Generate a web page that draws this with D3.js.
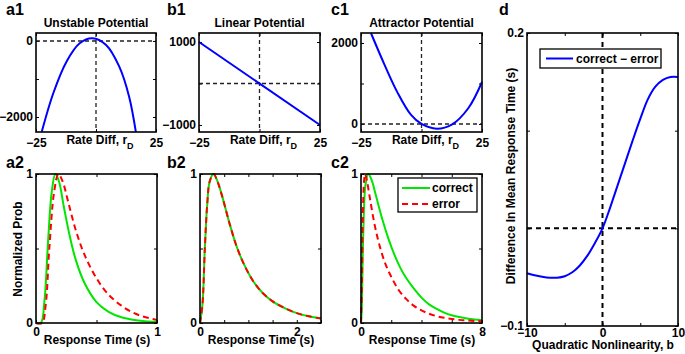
<!DOCTYPE html>
<html>
<head>
<meta charset="utf-8">
<script src="https://cdn.jsdelivr.net/npm/d3@7"></script>
<style>
body { margin: 0; background: #fff; }
text { font-family: "Liberation Sans", Arial, Helvetica, sans-serif; font-weight: bold; font-size: 12px; fill: #000; }
</style>
</head>
<body>
<div id="fig"></div>
<script>
// ---- top row: potentials U(rD) ----
var unstableR = [-22.6, -17.8, -12.3, -6.8, -1.5, 4.2, 9.7, 13.8, 16.6];
var unstableU = [-2390, -1376, -545, -61, 70, -105, -676, -1466, -2390];

var linearR = [-25, 25];
var linearU = [1000, -1000];

var attractorR = [-20.9, -15.4, -9.9, -4.4, 0, 6.3, 12.5, 19.4, 25];
var attractorU = [2247, 1480, 775, 230, 0, -116, -17, 395, 1037];

var rateTicks = [-25, 0, 25];
var rateTickLabels = [-25, 25];

// ---- bottom row: normalized RT distributions ----
var a2CorrectT = [0, 0.04, 0.07, 0.10, 0.13, 0.16, 0.19, 0.23, 0.28, 0.33, 0.40, 0.50, 0.60, 0.70, 0.80, 0.90, 1.0];
var a2Correct  = [0, 0, 0.15, 0.55, 0.88, 1.0, 0.95, 0.78, 0.58, 0.42, 0.27, 0.14, 0.075, 0.04, 0.022, 0.012, 0.007];
var a2ErrorT = [0, 0.05, 0.08, 0.11, 0.15, 0.185, 0.22, 0.27, 0.33, 0.40, 0.50, 0.60, 0.70, 0.80, 0.90, 1.0];
var a2Error  = [0, 0, 0.12, 0.5, 0.88, 1.0, 0.95, 0.8, 0.62, 0.46, 0.3, 0.19, 0.12, 0.07, 0.04, 0.02];

var b2T = [0, 0.05, 0.1, 0.15, 0.2, 0.28, 0.35, 0.45, 0.6, 0.75, 0.9, 1.1, 1.3, 1.5, 1.75, 2.0, 2.25, 2.5];
var b2Correct = [0, 0.12, 0.5, 0.8, 0.95, 1.0, 0.96, 0.86, 0.68, 0.52, 0.4, 0.28, 0.2, 0.145, 0.1, 0.066, 0.045, 0.03];
var b2Error   = [0, 0.12, 0.5, 0.8, 0.95, 1.0, 0.96, 0.86, 0.68, 0.52, 0.4, 0.28, 0.2, 0.145, 0.1, 0.066, 0.045, 0.03];

var c2CorrectT = [0, 0.05, 0.15, 0.3, 0.48, 0.7, 1.0, 1.4, 1.8, 2.2, 2.6, 3.0, 3.5, 4.0, 4.5, 5.0, 5.5, 6.0, 6.5, 7.0, 7.5, 8.0];
var c2Correct  = [0, 0.1, 0.6, 0.93, 1.0, 0.96, 0.85, 0.7, 0.57, 0.46, 0.37, 0.3, 0.23, 0.17, 0.125, 0.095, 0.07, 0.052, 0.04, 0.03, 0.023, 0.018];
var c2ErrorT = [0, 0.05, 0.12, 0.2, 0.27, 0.4, 0.6, 0.9, 1.2, 1.6, 2.0, 2.5, 3.0, 3.5, 4.0, 4.5, 5.0, 5.5, 6.0, 6.5, 7.0, 7.5, 8.0];
var c2Error  = [0, 0.2, 0.7, 0.95, 1.0, 0.95, 0.83, 0.66, 0.53, 0.4, 0.31, 0.22, 0.16, 0.115, 0.085, 0.062, 0.046, 0.035, 0.027, 0.021, 0.017, 0.014, 0.012];

// ---- panel d: correct - error mean RT vs b ----
var nonlinB = [-10, -9, -8, -7, -6, -5, -4, -3, -2, -1, 0, 1, 2, 3, 4, 5, 6, 7, 8, 9, 10];
var rtDiff  = [-0.046, -0.048, -0.0495, -0.0505, -0.0505, -0.049, -0.045, -0.038, -0.028, -0.015, 0.0,
               0.021, 0.044, 0.067, 0.090, 0.112, 0.132, 0.145, 0.152, 0.155, 0.155];

var svg = d3.select("#fig").append("svg")
    .attr("width", 685)
    .attr("height", 354);

function zip(xs, ys) {
    return xs.map(function (d, i) { return [d, ys[i]]; });
}

// build scales, inward ticks on all sides (matlab look) and the box
function makeAxes(box, xdom, ydom, xt, xl, yt, yl, xpad) {
    var x = d3.scaleLinear().domain(xdom).range([box.l, box.r]);
    var y = d3.scaleLinear().domain(ydom).range([box.b, box.t]);
    var fx = function (d) { return xl.indexOf(d) >= 0 ? d3.format("")(d) : ""; };
    var fy = function (d) { return yl.indexOf(d) >= 0 ? d3.format("")(d) : ""; };

    var ax = svg.append("g").attr("class", "axis");
    ax.append("g").attr("transform", "translate(0," + box.b + ")")
        .call(d3.axisBottom(x).tickValues(xt).tickSize(-3).tickPadding(xpad).tickFormat(fx));
    ax.append("g").attr("transform", "translate(0," + box.t + ")")
        .call(d3.axisTop(x).tickValues(xt).tickSize(-3).tickFormat(""));
    ax.append("g").attr("transform", "translate(" + box.l + ",0)")
        .call(d3.axisLeft(y).tickValues(yt).tickSize(-3).tickPadding(3).tickFormat(fy));
    ax.append("g").attr("transform", "translate(" + box.r + ",0)")
        .call(d3.axisRight(y).tickValues(yt).tickSize(-3).tickFormat(""));
    ax.selectAll(".domain").remove();
    ax.selectAll(".tick line").attr("stroke-width", 1);
    ax.selectAll("text").attr("font-size", null).attr("font-family", null);
    return {x: x, y: y, box: box, g: ax};
}

function drawBox(p) {
    svg.append("rect")
        .attr("x", p.box.l).attr("y", p.box.t)
        .attr("width", p.box.r - p.box.l).attr("height", p.box.b - p.box.t)
        .attr("fill", "none").attr("stroke", "#000").attr("stroke-width", 1.6);
}

function zeroLines(p, w, dash, col) {
    svg.append("line")
        .attr("x1", p.x(0)).attr("x2", p.x(0)).attr("y1", p.box.t).attr("y2", p.box.b)
        .attr("stroke", col).attr("stroke-width", w).attr("stroke-dasharray", dash);
    svg.append("line")
        .attr("x1", p.box.l).attr("x2", p.box.r).attr("y1", p.y(0)).attr("y2", p.y(0))
        .attr("stroke", col).attr("stroke-width", w).attr("stroke-dasharray", dash);
}

function curve(p, pts, color, dash) {
    var line = d3.line()
        .x(function (d) { return p.x(d[0]); })
        .y(function (d) { return p.y(d[1]); })
        .curve(d3.curveCatmullRom);
    svg.append("path")
        .datum(pts)
        .attr("d", line)
        .attr("fill", "none")
        .attr("stroke", color)
        .attr("stroke-width", 2)
        .attr("stroke-dasharray", dash || null);
}

function label(txt, x, y, size, anchor) {
    return svg.append("text").attr("x", x).attr("y", y)
        .style("font-size", size + "px")
        .attr("text-anchor", anchor || "start")
        .text(txt);
}

function rateLabel(p) {
    var t = svg.append("text")
        .attr("x", (p.box.l + p.box.r) / 2 + 4)
        .attr("y", p.box.b + 12)
        .attr("text-anchor", "middle");
    t.append("tspan").text("Rate Diff, r");
    t.append("tspan").attr("dy", 5).style("font-size", "9px").text("D");
}

var GREEN = "#00e600", RED = "#ff0000", BLUE = "#0000ff";

// a1
var a1 = makeAxes({l: 36, r: 156, t: 33, b: 132}, [-25, 25], [-2395, 210],
    rateTicks, rateTickLabels, [-2000, -1000, 0], [-2000, 0], 6);
zeroLines(a1, 1.3, "4,3", "#222");
curve(a1, zip(unstableR, unstableU), BLUE);
drawBox(a1);
rateLabel(a1);
label("Unstable Potential", 96, 27, 12, "middle");

// b1
var b1 = makeAxes({l: 199, r: 320, t: 33, b: 132}, [-25, 25], [-1169, 1217],
    rateTicks, rateTickLabels, [-1000, 0, 1000], [-1000, 1000], 6);
zeroLines(b1, 1.3, "4,3", "#222");
curve(b1, zip(linearR, linearU), BLUE);
drawBox(b1);
rateLabel(b1);
label("Linear Potential", 259.5, 27, 12, "middle");

// c1
var c1 = makeAxes({l: 361, r: 482, t: 33, b: 132}, [-25, 25], [-198, 2247],
    rateTicks, rateTickLabels, [0, 1000, 2000], [0, 2000], 6);
zeroLines(c1, 1.3, "4,3", "#222");
curve(c1, zip(attractorR, attractorU), BLUE);
drawBox(c1);
rateLabel(c1);
label("Attractor Potential", 421.5, 27, 12, "middle");

// a2
var a2 = makeAxes({l: 36, r: 157, t: 174, b: 323}, [0, 1], [0, 1],
    [0, 0.5, 1], [0, 1], [0, 0.5, 1], [0, 1], 4);
curve(a2, zip(a2CorrectT, a2Correct), GREEN);
curve(a2, zip(a2ErrorT, a2Error), RED, "6,4");
drawBox(a2);
label("Response Time (s)", 97, 344, 12, "middle");
svg.append("text")
    .attr("transform", "translate(22,249) rotate(-90)")
    .attr("text-anchor", "middle")
    .text("Normalized Prob");

// b2
var b2 = makeAxes({l: 200, r: 321, t: 174, b: 323}, [0, 2.5], [0, 1],
    [0, 0.5, 1, 1.5, 2, 2.5], [0, 2], [0, 0.5, 1], [0, 1], 4);
curve(b2, zip(b2T, b2Correct), GREEN);
curve(b2, zip(b2T, b2Error), RED, "6,4");
drawBox(b2);
label("Response Time (s)", 261, 344, 12, "middle");

// c2
var c2 = makeAxes({l: 361, r: 482, t: 174, b: 323}, [0, 8], [0, 1],
    [0, 2, 4, 6, 8], [0, 8], [0, 0.5, 1], [0, 1], 4);
curve(c2, zip(c2CorrectT, c2Correct), GREEN);
curve(c2, zip(c2ErrorT, c2Error), RED, "6,4");
drawBox(c2);
label("Response Time (s)", 422, 344, 12, "middle");

// legend c2
svg.append("rect").attr("x", 398).attr("y", 178).attr("width", 79).attr("height", 34)
    .attr("fill", "#fff").attr("stroke", "#000").attr("stroke-width", 1.3);
svg.append("line").attr("x1", 402).attr("x2", 430).attr("y1", 188).attr("y2", 188)
    .attr("stroke", GREEN).attr("stroke-width", 2);
svg.append("line").attr("x1", 402).attr("x2", 430).attr("y1", 204).attr("y2", 204)
    .attr("stroke", RED).attr("stroke-width", 2).attr("stroke-dasharray", "6,4");
label("correct", 432, 192, 12);
label("error", 432, 208, 12);

// d
var dp = makeAxes({l: 527, r: 678, t: 33, b: 326}, [-10, 10], [-0.1, 0.2],
    [-10, -5, 0, 5, 10], [-10, 0, 10], [-0.1, 0, 0.1, 0.2], [-0.1, 0.2], 2);
zeroLines(dp, 2, "5,4", "#000");
curve(dp, zip(nonlinB, rtDiff), BLUE);
drawBox(dp);
label("Quadratic Nonlinearity, b", 603, 349, 12, "middle");
svg.append("text")
    .attr("transform", "translate(515,176) rotate(-90)")
    .attr("text-anchor", "middle")
    .text("Difference In Mean Response Time (s)");

// legend d
svg.append("rect").attr("x", 540).attr("y", 49).attr("width", 121).attr("height", 19)
    .attr("fill", "#fff").attr("stroke", "#000").attr("stroke-width", 1.3);
svg.append("line").attr("x1", 546).attr("x2", 573).attr("y1", 58.5).attr("y2", 58.5)
    .attr("stroke", BLUE).attr("stroke-width", 2);
label("correct \u2212 error", 576, 63, 12);

// panel letters
label("a1", 6, 15, 16);
label("b1", 167, 15, 16);
label("c1", 331, 15, 16);
label("d", 499, 15, 16);
label("a2", 6, 168, 16);
label("b2", 167, 168, 16);
label("c2", 331, 168, 16);
</script>
</body>
</html>
